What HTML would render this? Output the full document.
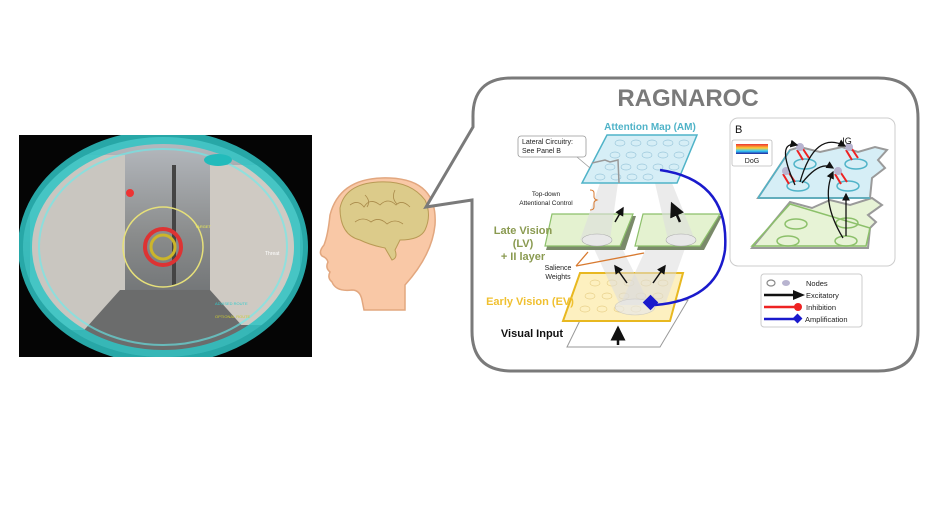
<!DOCTYPE html>
<html><head><meta charset="utf-8"><style>
html,body{margin:0;padding:0;background:#fff;width:925px;height:520px;overflow:hidden}
svg{display:block}
text{font-family:"Liberation Sans",sans-serif}
</style></head><body>
<svg width="925" height="520" viewBox="0 0 925 520" xmlns="http://www.w3.org/2000/svg">
<defs>
<linearGradient id="sky" x1="0" y1="0" x2="0" y2="1">
<stop offset="0" stop-color="#b8bcc2"/><stop offset="0.45" stop-color="#8a8c8c"/><stop offset="1" stop-color="#5a5e62"/>
</linearGradient>
<linearGradient id="dog" x1="0" y1="0" x2="0" y2="1">
<stop offset="0" stop-color="#e33"/><stop offset="0.4" stop-color="#fc3"/><stop offset="0.7" stop-color="#3cf"/><stop offset="1" stop-color="#229"/>
</linearGradient>
<clipPath id="lc"><rect x="19" y="135" width="293" height="222"/></clipPath>
<clipPath id="ec"><ellipse cx="163" cy="247" rx="140" ry="110"/></clipPath>
<marker id="ah" markerWidth="6" markerHeight="6" refX="5" refY="3" orient="auto"><path d="M0,0 L6,3 L0,6z" fill="#111"/></marker>
</defs>

<!-- Left HUD image -->
<rect x="19" y="135" width="293" height="222" fill="#050505"/>
<g clip-path="url(#lc)">
<g clip-path="url(#ec)">
<rect x="19" y="135" width="293" height="222" fill="url(#sky)"/>
<rect x="30" y="155" width="95" height="175" fill="#c9c6c0"/>
<rect x="210" y="165" width="90" height="160" fill="#cfcac3"/>
<polygon points="120,290 210,290 270,357 60,357" fill="#6b6c6c"/>
<rect x="172" y="165" width="4" height="120" fill="#444"/>
</g>
<ellipse cx="163" cy="247" rx="138" ry="110" fill="none" stroke="#2ec4c4" stroke-width="14" opacity="0.85"/>
<ellipse cx="163" cy="247" rx="124" ry="98" fill="none" stroke="#6ee" stroke-width="2" opacity="0.6"/>
</g>
<circle cx="163" cy="247" r="40" fill="none" stroke="#e6e07a" stroke-width="1.5"/>
<circle cx="163" cy="247" r="18" fill="none" stroke="#d33" stroke-width="4"/>
<circle cx="163" cy="247" r="12" fill="none" stroke="#ccb52a" stroke-width="3"/>
<circle cx="130" cy="193" r="4" fill="#e33"/>
<ellipse cx="218" cy="160" rx="14" ry="6" fill="#2bb" />
<text x="265" y="255" font-size="5" fill="#fff">Threat</text>
<text x="215" y="305" font-size="4" fill="#3cc">ADVISED ROUTE</text>
<text x="215" y="318" font-size="4" fill="#cc3">OPTIONAL ROUTE</text>
<text x="195" y="228" font-size="4" fill="#ee5">TARGET</text>

<!-- Head -->
<path d="M405,310 L405,285 Q432,255 435,225 Q438,180 390,178 Q340,176 330,215 Q328,235 324,245 Q318,252 322,256 Q327,258 328,262 Q325,268 330,272 Q327,278 332,282 Q336,292 352,290 Q360,290 362,300 L364,310 Z" fill="#f9c8a6" stroke="#e2a77f" stroke-width="1.5"/>
<path d="M340,208 Q345,184 378,182 Q410,180 425,200 Q432,215 425,230 Q420,240 400,240 L395,250 Q398,258 392,260 L385,248 Q370,245 360,240 Q340,235 340,208Z" fill="#dccb8a" stroke="#b99a55" stroke-width="1"/>
<path d="M350,205 q8,-6 14,2 q6,-10 16,-2 q8,-8 16,0 q6,-6 14,2 M355,222 q8,-6 16,0 q8,-6 16,2 q8,-6 16,0 M365,195 q6,6 2,12 M395,190 q-4,8 2,14" fill="none" stroke="#a98a4a" stroke-width="0.8"/>

<!-- Callout box -->
<path d="M512,78 L878,78 Q918,78 918,118 L918,331 Q918,371 878,371 L512,371 Q472,371 472,331 L472,200 L426,207 L473,127 L473,118 Q472,78 512,78Z" fill="#fff" stroke="#7a7a7a" stroke-width="3"/>
<text x="688" y="106" font-size="24" font-weight="bold" fill="#7a7a7a" text-anchor="middle">RAGNAROC</text>

<!-- Visual input plane -->
<polygon points="590,300 688,300 660,347 567,347" fill="#fff" stroke="#999" stroke-width="1"/>
<line x1="618" y1="345" x2="618" y2="328" stroke="#111" stroke-width="2.5" marker-end="url(#ah)"/>
<!-- Early vision -->
<polygon points="580,273 683,273 670,321 563,321" fill="#fdf0c0" stroke="#e8b820" stroke-width="2"/>
<g fill="none" stroke="#e8d08a" stroke-width="0.7">
<ellipse cx="595" cy="283" rx="5" ry="3"/><ellipse cx="612" cy="283" rx="5" ry="3"/><ellipse cx="629" cy="283" rx="5" ry="3"/><ellipse cx="646" cy="283" rx="5" ry="3"/><ellipse cx="663" cy="283" rx="5" ry="3"/>
<ellipse cx="590" cy="296" rx="5" ry="3"/><ellipse cx="607" cy="296" rx="5" ry="3"/><ellipse cx="624" cy="296" rx="5" ry="3"/><ellipse cx="641" cy="296" rx="5" ry="3"/><ellipse cx="658" cy="296" rx="5" ry="3"/>
<ellipse cx="585" cy="309" rx="5" ry="3"/><ellipse cx="602" cy="309" rx="5" ry="3"/><ellipse cx="619" cy="309" rx="5" ry="3"/><ellipse cx="636" cy="309" rx="5" ry="3"/>
</g>
<!-- cones -->
<polygon points="590,240 618,240 650,305 620,305" fill="#ddd" opacity="0.55"/>
<polygon points="650,240 688,240 665,305 620,305" fill="#ddd" opacity="0.55"/>
<ellipse cx="635" cy="307" rx="20" ry="8" fill="#e8e8e8" opacity="0.7" stroke="#bbb" stroke-width="0.6"/>
<line x1="627" y1="283" x2="615" y2="266" stroke="#111" stroke-width="1.5" marker-end="url(#ah)"/>
<line x1="653" y1="283" x2="665" y2="266" stroke="#111" stroke-width="1.5" marker-end="url(#ah)"/>
<!-- Late vision -->
<polygon points="556,216 636,216 625,250 546,250" fill="#7a8a6a"/>
<polygon points="552,214 633,214 620,246 545,246" fill="#e4f2d0" stroke="#8cc06a" stroke-width="1.2"/>
<polygon points="647,216 722,216 704,250 637,250" fill="#7a8a6a"/>
<polygon points="643,214 720,214 700,246 635,246" fill="#e4f2d0" stroke="#8cc06a" stroke-width="1.2"/>
<polygon points="600,183 618,183 610,240 580,240" fill="#ddd" opacity="0.6"/>
<polygon points="655,183 672,183 695,240 668,240" fill="#ddd" opacity="0.6"/>
<ellipse cx="597" cy="240" rx="15" ry="6" fill="#e8e8e8" stroke="#aaa" stroke-width="0.6"/>
<ellipse cx="681" cy="240" rx="15" ry="6" fill="#e8e8e8" stroke="#aaa" stroke-width="0.6"/>
<line x1="615" y1="222" x2="623" y2="208" stroke="#111" stroke-width="1.5" marker-end="url(#ah)"/>
<line x1="680" y1="222" x2="672" y2="204" stroke="#111" stroke-width="2.5" marker-end="url(#ah)"/>
<!-- Attention Map -->
<polygon points="607,135 697,135 677,183 582,183" fill="#d6eef6" stroke="#4fb3c8" stroke-width="1.5"/>
<g fill="none" stroke="#9cc8dc" stroke-width="0.7">
<ellipse cx="620" cy="143" rx="5" ry="3"/><ellipse cx="636" cy="143" rx="5" ry="3"/><ellipse cx="652" cy="143" rx="5" ry="3"/><ellipse cx="668" cy="143" rx="5" ry="3"/><ellipse cx="684" cy="143" rx="5" ry="3"/>
<ellipse cx="615" cy="155" rx="5" ry="3"/><ellipse cx="631" cy="155" rx="5" ry="3"/><ellipse cx="647" cy="155" rx="5" ry="3"/><ellipse cx="663" cy="155" rx="5" ry="3"/><ellipse cx="679" cy="155" rx="5" ry="3"/>
<ellipse cx="610" cy="167" rx="5" ry="3"/><ellipse cx="626" cy="167" rx="5" ry="3"/><ellipse cx="642" cy="167" rx="5" ry="3"/><ellipse cx="658" cy="167" rx="5" ry="3"/><ellipse cx="674" cy="167" rx="5" ry="3"/>
<ellipse cx="600" cy="177" rx="5" ry="3"/><ellipse cx="616" cy="177" rx="5" ry="3"/><ellipse cx="632" cy="177" rx="5" ry="3"/><ellipse cx="648" cy="177" rx="5" ry="3"/>
</g>
<path d="M592,163 L605,160 L610,162 L618,160 L619,183" fill="none" stroke="#999" stroke-width="1.5"/>
<text x="650" y="130" font-size="10" font-weight="bold" fill="#4fb3c8" text-anchor="middle">Attention Map (AM)</text>
<!-- Lateral callout -->
<rect x="518" y="136" width="68" height="21" rx="3" fill="#fff" stroke="#999" stroke-width="0.8"/>
<polyline points="577,157 590,168" stroke="#999" stroke-width="0.8" fill="none"/>
<text x="522" y="144" font-size="7" fill="#222">Lateral Circuitry:</text>
<text x="522" y="153" font-size="7" fill="#222">See Panel B</text>
<text x="546" y="196" font-size="6.5" fill="#222" text-anchor="middle">Top-down</text>
<text x="546" y="205" font-size="6.5" fill="#222" text-anchor="middle">Attentional Control</text>
<path d="M590,190 q4,0 4,3 v4 q0,2 3,3 q-3,1 -3,3 v4 q0,3 -4,3" fill="none" stroke="#d87a30" stroke-width="1"/>
<text x="523" y="234" font-size="11" font-weight="bold" fill="#8a9a50" text-anchor="middle">Late Vision</text>
<text x="523" y="247" font-size="11" font-weight="bold" fill="#8a9a50" text-anchor="middle">(LV)</text>
<text x="523" y="260" font-size="11" font-weight="bold" fill="#8a9a50" text-anchor="middle">+ II layer</text>
<text x="558" y="270" font-size="7" fill="#222" text-anchor="middle">Salience</text>
<text x="558" y="279" font-size="7" fill="#222" text-anchor="middle">Weights</text>
<path d="M576,266 L588,252 M576,266 L644,253" stroke="#d87a30" stroke-width="1.3" fill="none"/>
<text x="530" y="305" font-size="11" font-weight="bold" fill="#f0c030" text-anchor="middle">Early Vision (EV)</text>
<text x="532" y="337" font-size="11" font-weight="bold" fill="#111" text-anchor="middle">Visual Input</text>
<!-- Blue amplification arc -->
<path d="M660,170 Q730,180 725,250 Q718,300 655,305" fill="none" stroke="#1a1acc" stroke-width="2.5"/>
<rect x="645" y="297" width="11" height="11" fill="#1a1acc" transform="rotate(45 650.5 302.5)"/>

<!-- Panel B -->
<rect x="730" y="118" width="165" height="148" rx="8" fill="#fff" stroke="#ccc" stroke-width="1"/>
<text x="735" y="133" font-size="11" fill="#111">B</text>
<polygon points="752,248 868,248 870,228 876,222 868,215 882,205 872,198 850,205 830,200 812,208 790,202" fill="#e7f3d6" stroke="#9a9a9a" stroke-width="2"/>
<polygon points="752,246 866,246 870,228 790,204" fill="none" stroke="#8cc06a" stroke-width="1.5"/>
<g fill="none" stroke="#8cc06a" stroke-width="1.5">
<ellipse cx="796" cy="224" rx="11" ry="5"/><ellipse cx="847" cy="223" rx="11" ry="5"/><ellipse cx="788" cy="241" rx="11" ry="5"/><ellipse cx="846" cy="241" rx="11" ry="5"/>
</g>
<polygon points="758,198 870,198 872,178 885,168 878,160 887,150 875,147 858,152 842,147 820,152 800,147 790,150" fill="#d6eef6" stroke="#9a9a9a" stroke-width="2"/>
<line x1="758" y1="198" x2="870" y2="198" stroke="#4fb3c8" stroke-width="1.5"/>
<line x1="758" y1="198" x2="790" y2="150" stroke="#4fb3c8" stroke-width="1.5"/>
<g fill="none" stroke="#4fb3c8" stroke-width="1.5">
<ellipse cx="805" cy="164" rx="11" ry="5"/><ellipse cx="856" cy="164" rx="11" ry="5"/><ellipse cx="798" cy="186" rx="11" ry="5"/><ellipse cx="848" cy="186" rx="11" ry="5"/>
</g>
<g stroke="#e22" stroke-width="2">
<line x1="797" y1="150" x2="803" y2="160"/><line x1="803" y1="149" x2="809" y2="158"/>
<line x1="846" y1="150" x2="852" y2="160"/><line x1="852" y1="149" x2="858" y2="158"/>
<line x1="783" y1="174" x2="789" y2="184"/><line x1="789" y1="173" x2="795" y2="182"/>
<line x1="835" y1="174" x2="841" y2="184"/><line x1="841" y1="173" x2="847" y2="182"/>
</g>
<g fill="#b8b4d0"><circle cx="800" cy="147" r="4"/><circle cx="849" cy="147" r="4"/><circle cx="786" cy="171" r="4"/><circle cx="838" cy="171" r="4"/></g>
<g fill="none" stroke="#111" stroke-width="1.3" marker-end="url(#ah)">
<path d="M795,185 Q775,140 797,145"/><path d="M800,182 Q815,130 845,146"/><path d="M802,183 Q820,160 833,168"/>
<path d="M843,238 Q820,200 833,172"/><path d="M846,236 L846,194"/>
</g>
<text x="847" y="144" font-size="9" fill="#111" text-anchor="middle">IG</text>
<rect x="732" y="140" width="40" height="26" rx="2" fill="#fff" stroke="#bbb" stroke-width="0.8"/>
<rect x="736" y="144" width="32" height="10" fill="url(#dog)"/>
<text x="752" y="163" font-size="7" fill="#222" text-anchor="middle">DoG</text>

<!-- Legend -->
<rect x="761" y="274" width="101" height="53" rx="3" fill="#fff" stroke="#ccc" stroke-width="1"/>
<ellipse cx="771" cy="283" rx="4" ry="3" fill="none" stroke="#888" stroke-width="1.2"/>
<ellipse cx="786" cy="283" rx="4" ry="3" fill="#b8b4d0"/>
<text x="806" y="286" font-size="7.5" fill="#222">Nodes</text>
<line x1="764" y1="295" x2="795" y2="295" stroke="#111" stroke-width="2.5"/><polygon points="793,290 805,295 793,300" fill="#111"/>
<text x="806" y="298" font-size="7.5" fill="#222">Excitatory</text>
<line x1="764" y1="307" x2="798" y2="307" stroke="#e22" stroke-width="2.5"/><circle cx="798" cy="307" r="4" fill="#e22"/>
<text x="806" y="310" font-size="7.5" fill="#222">Inhibition</text>
<line x1="764" y1="319" x2="798" y2="319" stroke="#1a1acc" stroke-width="2.5"/><rect x="794" y="315" width="7" height="7" fill="#1a1acc" transform="rotate(45 797.5 318.5)"/>
<text x="805" y="322" font-size="7.5" fill="#222">Amplification</text>
</svg>
</body></html>
